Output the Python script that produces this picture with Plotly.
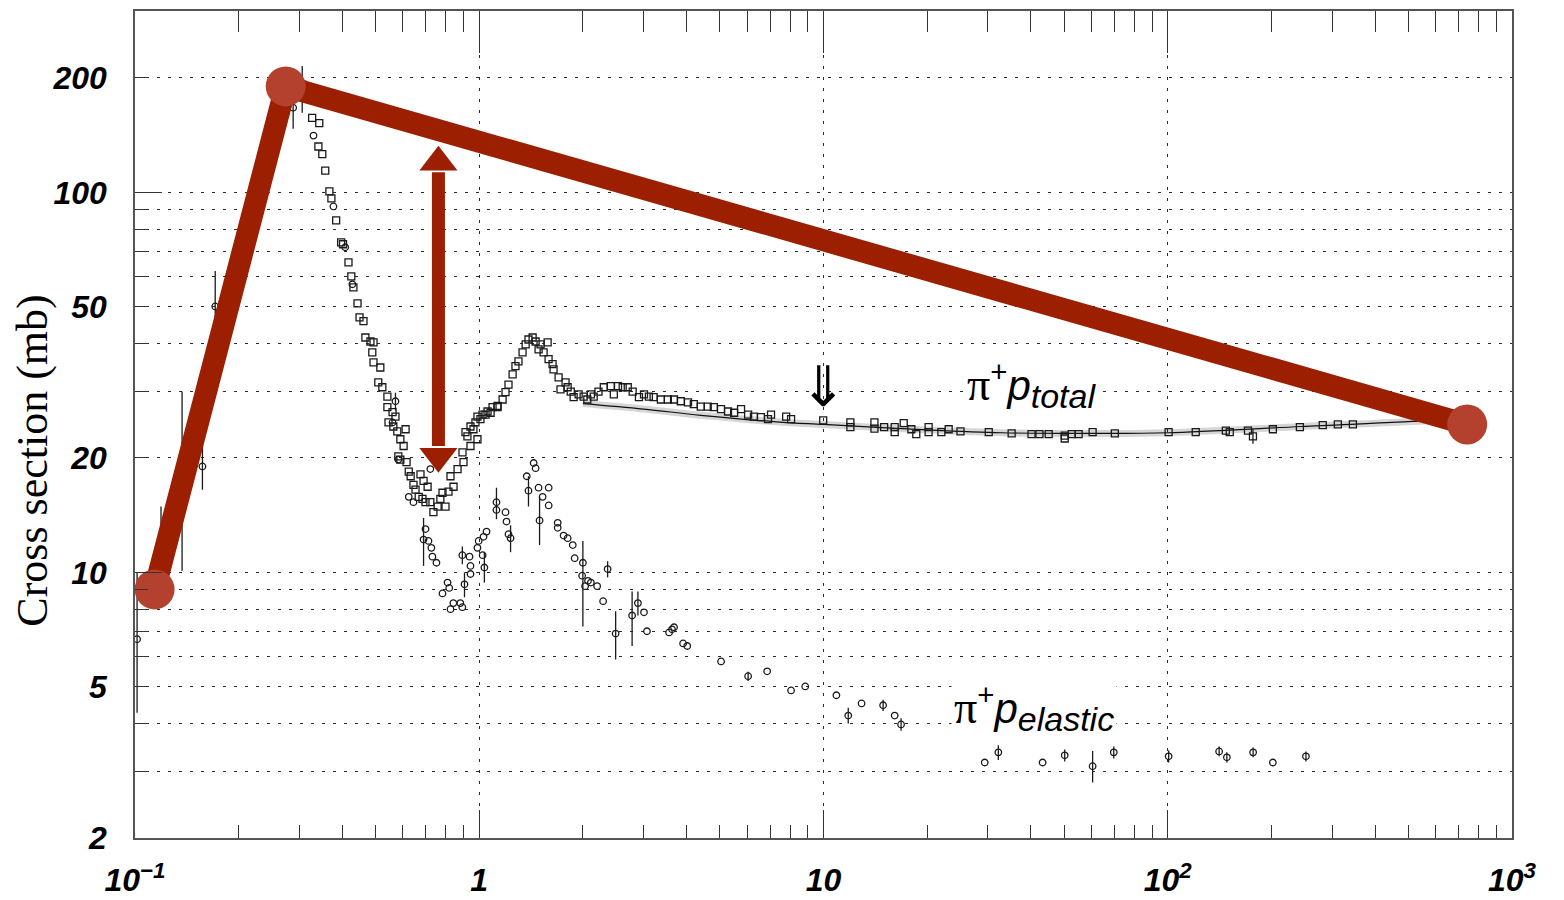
import numpy as np
import plotly.graph_objects as go

# ---------------- data ----------------
# pi+ p total cross section (open squares), x = beam momentum (GeV/c), y = mb
total_x = [0.327, 0.343, 0.341, 0.350, 0.357, 0.367, 0.372, 0.384, 0.397, 0.402, 0.417, 0.425,
           0.431, 0.443, 0.449, 0.461, 0.467, 0.483, 0.493, 0.489, 0.493, 0.516, 0.509, 0.523,
           0.541, 0.541, 0.560, 0.571, 0.545, 0.563, 0.578, 0.611, 0.590, 0.603, 0.582, 0.590,
           0.615, 0.624, 0.632, 0.644, 0.653, 0.675, 0.689, 0.708, 0.667, 0.684, 0.698, 0.721,
           0.736, 0.757, 0.771, 0.782, 0.798, 0.814, 0.825, 0.842, 0.865, 0.894, 0.900, 0.924,
           0.943, 0.962, 0.988, 1.008, 1.043, 1.079, 1.13, 0.912, 0.943, 0.975, 0.988, 1.022,
           1.057, 1.093, 1.13, 1.169, 1.192, 1.216, 1.25, 1.274, 1.30, 1.336, 1.364, 1.39,
           1.429, 1.458, 1.487, 1.507, 1.538, 1.58, 1.59, 1.633, 1.644, 1.70, 1.722, 1.781,
           1.806, 1.844, 1.88, 1.944, 2.01, 2.06, 2.11, 2.15, 2.22, 2.30, 2.41, 2.46, 2.53,
           2.61, 2.70, 2.79, 2.91, 3.01, 3.11, 3.21, 3.37, 3.53, 3.68, 3.85, 4.04, 4.20, 4.40,
           4.61, 4.80, 5.04, 5.28, 5.50, 5.76, 6.04, 6.28, 6.58, 6.90, 7.04, 7.79, 8.05, 9.98,
           11.97, 11.97, 14.06, 14.06, 15.0, 16.1, 16.1, 17.1, 18.0, 18.6, 20.2, 20.2, 22.0,
           23.1, 25.0, 30.2, 35.2, 40.2, 42.4, 45.1, 50.2, 50.2, 52.6, 55.1, 60.5, 70.2, 100.6,
           120.6, 147.5, 151.4, 171, 202, 242, 282, 312, 345]
total_y = [157, 152, 132, 126, 114, 100.6, 96.4, 84.4, 73.8, 73, 65.4, 60.1,
           56.2, 51, 46.9, 45.8, 41.5, 40.5, 40.3, 37.9, 35.7, 34.6, 31.6, 30.7,
           29.0, 27.2, 26.4, 25.7, 24.8, 24.2, 23.5, 23.8, 22.4, 21.5, 20.2, 19.8,
           19.5, 18.4, 17.9, 17.0, 16.5, 18.1, 17.4, 16.8, 15.8, 15.6, 15.3, 15.3,
           14.4, 14.9, 15.6, 16.2, 14.9, 16.3, 17.9, 16.8, 18.7, 20.7, 19.5, 22.8,
           21.5, 23.8, 22.4, 25.3, 26.0, 26.3, 27.2, 23.4, 24.2, 24.8, 25.7, 26.0,
           26.5, 27.2, 27.4, 28.5, 29.8, 31.2, 33.2, 34.9, 35.9, 37.9, 39.8, 41.0,
           41.5, 40.5, 38.6, 39.8, 37.9, 40.3, 36.4, 35.3, 34.2, 32.6, 30.3, 31.6,
           30.7, 29.9, 28.9, 29.4, 29.0, 28.5, 29.4, 29.0, 29.9, 30.7, 30.9, 29.4, 30.9,
           30.7, 30.7, 29.9, 28.9, 29.4, 29.0, 28.9, 28.5, 28.5, 28.5, 28.2, 28.0, 27.7, 27.3,
           27.3, 27.2, 26.9, 26.5, 26.3, 26.9, 26.0, 25.7, 25.6, 25.3, 26.0, 25.7, 25.3, 25.1,
           24.8, 24.1, 24.8, 23.9, 24.1, 24.1, 23.4, 24.7, 23.8, 23.1, 24.1, 23.4, 23.4,
           23.8, 23.5, 23.4, 23.2, 23.1, 23.1, 23.1, 22.9, 22.5, 23.1, 23.1, 23.4, 23.2, 23.4,
           23.4, 23.6, 23.4, 23.6, 23.8, 24.1, 24.4, 24.5, 24.5]
# total points drawn with error bars
total_eb_x = [0.306, 176.8]
total_eb_y = [192, 22.8]
total_eb_up = [23, 1.0]
total_eb_dn = [30, 1.0]

# pi+ p elastic cross section (open circles)
elastic_x = [0.330, 0.377, 0.408, 0.428, 0.560, 0.582, 0.624, 0.644, 0.721, 0.698, 0.712,
             0.726, 0.731, 0.751, 0.809, 0.782, 0.818, 0.825, 0.841, 0.881, 0.893, 0.937,
             0.943, 0.943, 0.988, 0.996, 1.023, 1.029, 1.05, 1.122, 1.192, 1.20, 1.216,
             1.374, 1.439, 1.458, 1.487, 1.528, 1.591, 1.591, 1.69, 1.69, 1.758, 1.806,
             1.869, 1.893, 1.99, 2.03, 2.07, 2.11, 2.20, 2.29, 3.01, 3.07, 3.56, 3.63, 3.68,
             3.91, 4.02, 5.04, 6.86, 8.05, 8.85, 10.9, 12.9, 16.1, 29.4, 43.3, 202]
elastic_y = [141, 91.8, 71.7, 57.3, 24.8, 19.8, 15.8, 15.3, 18.7, 13.0, 12.1,
             11.6, 11.0, 10.6, 9.4, 8.8, 9.1, 8.0, 8.3, 8.3, 8.1, 11.0,
             10.4, 9.9, 11.6, 12.1, 11.1, 12.4, 12.8, 14.6, 14.4, 13.6, 12.6,
             17.9, 19.4, 18.8, 16.7, 15.8, 16.7, 15.0, 13.5, 13.1, 12.5, 12.3,
             11.8, 10.9, 9.8, 9.2, 9.5, 9.4, 9.2, 8.4, 7.85, 7.0, 6.95, 7.08, 7.17,
             6.5, 6.4, 5.83, 5.49, 4.89, 5.01, 4.75, 4.52, 4.2, 3.16, 3.16, 3.16]
# elastic points drawn with error bars
elastic_eb_x = [0.1014, 0.119, 0.137, 0.157, 0.171, 0.288, 0.571, 0.689, 0.893, 0.906,
                1.035, 1.122, 1.233, 1.39, 1.497, 2.0, 2.36, 2.49, 2.78, 2.89, 6.04,
                11.8, 14.9, 16.8, 32.2, 50.2, 60.5, 69.7, 100.6, 141, 148.5, 177, 252]
elastic_eb_y = [6.67, 12.0, 20.1, 19.0, 50.1, 167, 28.2, 12.2, 11.1, 9.3,
                10.3, 15.3, 12.3, 16.4, 13.7, 10.6, 10.2, 6.9, 7.7, 8.3, 5.33,
                4.2, 4.47, 3.98, 3.36, 3.30, 3.09, 3.36, 3.28, 3.38, 3.26, 3.36, 3.28]
elastic_eb_up = [3.3, 2.9, 9.8, 3.4, 12, 12, 1.5, 1.7, 0.6, 0.7,
                 1.0, 1.4, 1.0, 1.5, 2.1, 1.5, 0.5, 1.0, 1.2, 0.6, 0.15,
                 0.2, 0.15, 0.15, 0.15, 0.12, 0.3, 0.12, 0.12, 0.1, 0.1, 0.1, 0.1]
elastic_eb_dn = [2.4, 1.6, 10, 2.5, 10, 20, 1.5, 1.8, 0.6, 0.7,
                 0.9, 1.5, 1.0, 1.5, 1.9, 3.4, 0.5, 1.0, 1.3, 0.6, 0.15,
                 0.2, 0.15, 0.15, 0.15, 0.12, 0.29, 0.12, 0.12, 0.1, 0.1, 0.1, 0.1]

# fit curve through the total cross section
fit_x = [2.0, 3.0, 4.4, 7.3, 10, 20, 33, 64, 100, 245, 590, 740]
fit_y = [27.8, 26.9, 25.9, 24.9, 24.5, 23.7, 23.3, 23.2, 23.3, 24.2, 25.1, 25.5]

# red overlay sketch
red_x = [0.114, 0.274, 741]
red_y = [9.02, 190, 24.5]
arrow_x = 0.761
arrow_shaft_y = [21.5, 113]
arrow_head_top_y = 120
arrow_head_bottom_y = 20.2

# axis ticks
x_tickvals = [0.1, 1, 10, 100, 1000]
x_ticktext = ["10<sup>\u22121</sup>", "1", "10", "10<sup>2</sup>", "10<sup>3</sup>"]
x_minor = [m * d for d in [0.1, 1, 10, 100] for m in range(2, 10)]
y_tickvals = [2, 5, 10, 20, 50, 100, 200]
y_ticktext = ["2", "5", "10", "20", "50", "100", "200"]
y_minor = [3, 4, 6, 7, 8, 9, 30, 40, 60, 70, 80, 90]
y_long = [10, 100]

# ---------------- figure ----------------
RED = "#9B1F00"
RED_DOT = "#B4412E"
INK = "#1a1a1a"

fig = go.Figure()

# fit band + line
fig.add_trace(go.Scatter(x=fit_x, y=fit_y, mode="lines",
                         line=dict(color="rgba(0,0,0,0.16)", width=7, shape="spline"),
                         hoverinfo="skip", showlegend=False))
fig.add_trace(go.Scatter(x=fit_x, y=fit_y, mode="lines",
                         line=dict(color="#111", width=1.2, shape="spline"),
                         hoverinfo="skip", showlegend=False))

sq = dict(symbol="square-open", size=7, color=INK, line=dict(width=1.3, color=INK))
ci = dict(symbol="circle-open", size=6.5, color=INK, line=dict(width=1.3, color=INK))

fig.add_trace(go.Scatter(x=total_x, y=total_y, mode="markers", marker=sq, showlegend=False))
fig.add_trace(go.Scatter(x=total_eb_x, y=total_eb_y, mode="markers", marker=sq, showlegend=False,
                         error_y=dict(type="data", array=total_eb_up, arrayminus=total_eb_dn,
                                      width=0, thickness=1.3, color=INK)))
fig.add_trace(go.Scatter(x=elastic_x, y=elastic_y, mode="markers", marker=ci, showlegend=False))
fig.add_trace(go.Scatter(x=elastic_eb_x, y=elastic_eb_y, mode="markers", marker=ci, showlegend=False,
                         cliponaxis=False,
                         error_y=dict(type="data", array=elastic_eb_up, arrayminus=elastic_eb_dn,
                                      width=0, thickness=1.3, color=INK)))

# red overlay
fig.add_trace(go.Scatter(x=red_x, y=red_y, mode="lines",
                         line=dict(color=RED, width=22), hoverinfo="skip", showlegend=False))
fig.add_trace(go.Scatter(x=red_x, y=red_y, mode="markers", cliponaxis=False,
                         marker=dict(size=40, color=RED_DOT, line=dict(width=0)),
                         hoverinfo="skip", showlegend=False))
fig.add_trace(go.Scatter(x=[arrow_x, arrow_x], y=arrow_shaft_y, mode="lines",
                         line=dict(color=RED, width=13), hoverinfo="skip", showlegend=False))
fig.add_trace(go.Scatter(x=[arrow_x, arrow_x], y=[arrow_head_top_y, arrow_head_bottom_y],
                         mode="markers",
                         marker=dict(symbol=["triangle-up", "triangle-down"], size=33, color=RED,
                                     line=dict(width=0)),
                         hoverinfo="skip", showlegend=False))

# invisible traces so the overlay axes (extra tick sets) are drawn
fig.add_trace(go.Scatter(x=[1], y=[10], xaxis="x2", yaxis="y", mode="markers",
                         marker=dict(opacity=0), hoverinfo="skip", showlegend=False))
fig.add_trace(go.Scatter(x=[1], y=[10], xaxis="x", yaxis="y2", mode="markers",
                         marker=dict(opacity=0), hoverinfo="skip", showlegend=False))

tickfont = dict(family="Liberation Sans", size=32, color="#000", weight="bold", style="italic")
grid_common = dict(gridcolor="#2a2a2a", gridwidth=1.3, griddash="3px,8px")

xr = [np.log10(0.1), np.log10(1000)]
yr = [np.log10(2), np.log10(300)]

# the page adds an 8px body margin, so the figure is sized to fit the window
fig.update_layout(
    width=1556, height=892,
    margin=dict(l=127, r=52, t=3, b=62, autoexpand=False),
    paper_bgcolor="white", plot_bgcolor="white",
    xaxis=dict(type="log", range=xr, tickvals=x_tickvals, ticktext=x_ticktext,
               automargin=False,
               ticks="inside", ticklen=28, tickwidth=1.3, tickcolor="#333",
               showline=True, linecolor="#555", linewidth=1.6, mirror=True,
               showgrid=True, **grid_common, zeroline=False,
               tickfont=tickfont, ticklabelstandoff=13,
               minor=dict(tickvals=x_minor, ticks="inside", ticklen=13, tickwidth=1.3,
                          tickcolor="#333", showgrid=False)),
    xaxis2=dict(type="log", range=xr, overlaying="x", side="top", anchor="y",
                automargin=False,
                tickvals=[1, 10, 100], ticks="inside", ticklen=42, tickwidth=1.3,
                tickcolor="#333", showticklabels=False, showgrid=False, showline=False,
                zeroline=False,
                minor=dict(tickvals=x_minor, ticks="inside", ticklen=21, tickwidth=1.3,
                           tickcolor="#333", showgrid=False)),
    yaxis=dict(type="log", range=yr, tickvals=y_tickvals, ticktext=y_ticktext,
               automargin=False,
               ticks="inside", ticklen=14, tickwidth=1.3, tickcolor="#333",
               showline=True, linecolor="#555", linewidth=1.6, mirror=True,
               showgrid=True, **grid_common, zeroline=False,
               tickfont=tickfont, ticklabelstandoff=20,
               minor=dict(tickvals=y_minor, ticks="inside", ticklen=13, tickwidth=1.3,
                          tickcolor="#333", showgrid=True, **grid_common)),
    yaxis2=dict(type="log", range=yr, overlaying="y", side="left", anchor="x",
                automargin=False,
                tickvals=y_long, ticks="inside", ticklen=27, tickwidth=1.3, tickcolor="#333",
                showticklabels=False, showgrid=False, showline=False, zeroline=False),
)

# y-axis title
fig.add_annotation(text="Cross section (mb)", xref="paper", yref="paper",
                   x=-0.0742, y=0.456, xanchor="center", yanchor="middle",
                   textangle=-90, showarrow=False,
                   font=dict(family="Liberation Serif", size=44, color="#000"))

# curve labels
label_total_x, label_total_y = 25.6, 31.2
label_el_x, label_el_y = 23.4, 4.4
serif_pi = "<span style=\"font-family:Liberation Serif;font-size:46px\">\u03c0</span>"
fig.add_annotation(
    text=serif_pi + "<sup>+</sup><i>p</i><sub><span style=\"font-size:34px\"><i>total</i></span></sub>",
    x=np.log10(label_total_x), y=np.log10(label_total_y), xref="x", yref="y",
    xanchor="left", yanchor="middle", showarrow=False, bgcolor="white", borderpad=2,
    font=dict(family="Liberation Sans", size=42, color="#000"))
fig.add_annotation(
    text=serif_pi + "<sup>+</sup><i>p</i><sub><span style=\"font-size:34px\"><i>elastic</i></span></sub>",
    x=np.log10(label_el_x), y=np.log10(label_el_y), xref="x", yref="y",
    xanchor="left", yanchor="middle", showarrow=False, bgcolor="white", borderpad=2,
    font=dict(family="Liberation Sans", size=42, color="#000"))

# small double arrow marking 10 GeV/c
fig.add_annotation(text="\u21d3", x=np.log10(10), y=np.log10(30.8), xref="x", yref="y",
                   xanchor="center", yanchor="middle", showarrow=False,
                   font=dict(family="DejaVu Sans", size=56, color="#000", weight="normal"))

fig.write_html("out.html")
